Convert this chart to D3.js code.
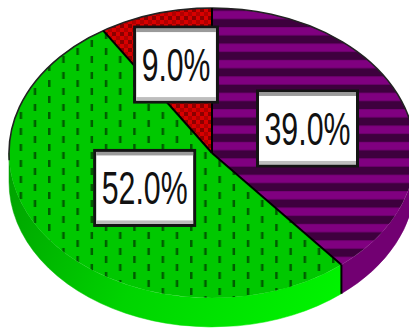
<!DOCTYPE html>
<html><head><meta charset="utf-8">
<script src="https://cdn.jsdelivr.net/npm/d3@7"></script>
<style>html,body{margin:0;padding:0;background:#fff;overflow:hidden}</style>
</head><body>
<svg id="c" width="409" height="329"></svg>
<script>
// ---- data ----
const categories = ["Slice A", "Slice B", "Slice C"];
const values = [39, 52, 9];
const sliceColors = ["#800080", "#00c800", "#d00000"];
const sideColors = ["#720072", "url(#gside)", "#a00000"];

// ---- layout ----
const cx = 212, cy = 153, rx = 203, ry = 145, depth = 29;
const labelFactor = [0.5, 0.41, 0.635];

const svg = d3.select("#c");
const defs = svg.append("defs");

// patterns
const pPurple = defs.append("pattern").attr("id", "ppurple").attr("patternUnits", "userSpaceOnUse")
  .attr("width", 10).attr("height", 16.4);
pPurple.append("rect").attr("width", 10).attr("height", 16.4).attr("fill", "#800080");
pPurple.append("rect").attr("y", 2.6).attr("width", 10).attr("height", 8.2).attr("fill", "#3e003e");

const pGreen = defs.append("pattern").attr("id", "pgreen").attr("patternUnits", "userSpaceOnUse")
  .attr("width", 28.4).attr("height", 16);
pGreen.append("rect").attr("width", 28.4).attr("height", 16).attr("fill", "#00c800");
pGreen.append("rect").attr("x", 5.4).attr("y", 8).attr("width", 2.5).attr("height", 7).attr("fill", "#005c00");
pGreen.append("rect").attr("x", 19.6).attr("y", 0).attr("width", 2.5).attr("height", 7).attr("fill", "#005c00");

const pRed = defs.append("pattern").attr("id", "pred").attr("patternUnits", "userSpaceOnUse")
  .attr("width", 8).attr("height", 8);
pRed.append("rect").attr("width", 8).attr("height", 8).attr("fill", "#d80000");
pRed.append("rect").attr("x", 0).attr("y", 0).attr("width", 4).attr("height", 4).attr("fill", "#8a0000");
pRed.append("rect").attr("x", 4).attr("y", 4).attr("width", 4).attr("height", 4).attr("fill", "#b00000");

const g = defs.append("linearGradient").attr("id", "gside").attr("gradientUnits", "userSpaceOnUse")
  .attr("x1", 10).attr("y1", 170).attr("x2", 330).attr("y2", 320);
g.append("stop").attr("offset", 0).attr("stop-color", "#00a200");
g.append("stop").attr("offset", 0.45).attr("stop-color", "#00d400");
g.append("stop").attr("offset", 1).attr("stop-color", "#00f400");

const fills = ["url(#ppurple)", "url(#pgreen)", "url(#pred)"];

const pie = d3.pie().sort(null).value(d => d)(values);

function pt(a, yo = 0) { return [cx + rx * Math.sin(a), cy - ry * Math.cos(a) + yo]; }

// side walls
pie.forEach((d, i) => {
  const s0 = Math.max(d.startAngle, Math.PI / 2), s1 = Math.min(d.endAngle, 3 * Math.PI / 2);
  if (s0 >= s1) return;
  const a = pt(s0), b = pt(s1), c = pt(s1, depth), e = pt(s0, depth);
  svg.append("path")
    .attr("d", `M${a}A${rx},${ry} 0 0 1 ${b}L${c}A${rx},${ry} 0 0 0 ${e}Z`)
    .attr("fill", sideColors[i]).attr("stroke", sideColors[i]).attr("stroke-width", 0.5);
});

// top faces
pie.forEach((d, i) => {
  const a = pt(d.startAngle), b = pt(d.endAngle);
  const large = d.endAngle - d.startAngle > Math.PI ? 1 : 0;
  svg.append("path")
    .attr("d", `M${cx},${cy}L${a}A${rx},${ry} 0 ${large} 1 ${b}Z`)
    .attr("fill", fills[i]);
});

// outline of upper rim
svg.append("path")
  .attr("d", `M${pt(3 * Math.PI / 2 - 0.05)}A${rx},${ry} 0 0 1 ${pt(Math.PI / 2 - 0.1)}`)
  .attr("fill", "none").attr("stroke", "#222").attr("stroke-width", 1.6);

// slice borders
pie.forEach((d, i) => {
  const a = pt(d.startAngle);
  svg.append("line").attr("x1", cx).attr("y1", cy).attr("x2", a[0]).attr("y2", a[1])
    .attr("stroke", "#000").attr("stroke-width", 2);
  if (d.startAngle > Math.PI / 2 && d.startAngle < 3 * Math.PI / 2) {
    svg.append("line").attr("x1", a[0]).attr("y1", a[1]).attr("x2", a[0]).attr("y2", a[1] + depth)
      .attr("stroke", "#000").attr("stroke-width", 2);
  }
});

// labels
const fmt = v => d3.format(".1f")(v) + "%";
pie.forEach((d, i) => {
  const m = (d.startAngle + d.endAngle) / 2;
  const f = labelFactor[i];
  const bx = cx + rx * f * Math.sin(m), by = cy - ry * f * Math.cos(m);
  const txt = fmt(d.data);
  const tl = txt.length * 17.2;
  const w = tl + 14, h = 75;
  const x0 = bx - w / 2, y0 = by - h / 2;
  const lg = svg.append("g");
  lg.append("rect").attr("x", x0).attr("y", y0).attr("width", w).attr("height", h)
    .attr("fill", "#fff").attr("stroke", "#141414").attr("stroke-width", 3);
  lg.append("rect").attr("x", x0 + 1.5).attr("y", y0 + 1.5).attr("width", w - 3).attr("height", 3.5).attr("fill", "#9a9a9a");
  lg.append("rect").attr("x", x0 + 1.5).attr("y", y0 + h - 5).attr("width", w - 3).attr("height", 3.5).attr("fill", "#bdbdbd");
  lg.append("text").attr("x", bx).attr("y", y0 + 54).attr("text-anchor", "middle")
    .attr("font-family", "Liberation Sans, Arial, sans-serif").attr("font-size", 47)
    .attr("textLength", tl).attr("lengthAdjust", "spacingAndGlyphs")
    .attr("fill", "#111").text(txt);
});
</script>
</body></html>
